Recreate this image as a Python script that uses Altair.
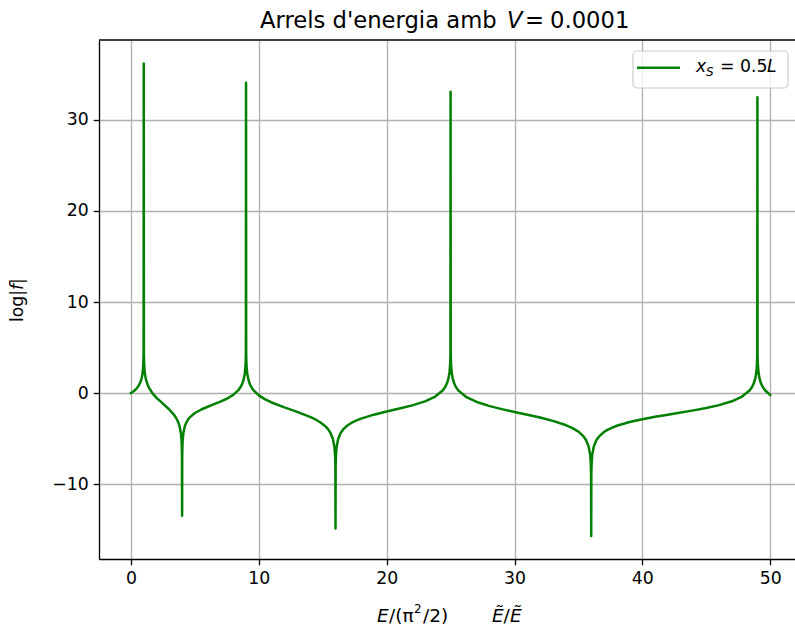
import altair as alt
import pandas as pd

FONT = "DejaVu Sans"
GREEN = "#008000"

# Energy grid (in units of pi^2/2) and log|f|,
# sampled more densely around the resonances (odd n^2) and roots (even n^2)
energy = [
    0.0, 0.1, 0.2, 0.3, 0.4, 0.5, 0.6, 0.7, 0.8, 0.85, 0.9, 0.94, 0.97, 0.99,
    1.0,
    1.01, 1.03, 1.06, 1.1, 1.15, 1.2, 1.3, 1.4, 1.7, 2.0, 2.5, 3.0, 3.4, 3.55,
    3.7, 3.8, 3.9, 3.95, 3.97, 3.99,
    4.0,
    4.01, 4.03, 4.05, 4.1, 4.2, 4.3, 4.45, 4.6, 5.0, 5.5, 6.0, 6.5, 7.0, 7.5,
    8.0, 8.4, 8.55, 8.7, 8.8, 8.9, 8.95, 8.97, 8.99,
    9.0,
    9.01, 9.03, 9.05, 9.1, 9.2, 9.3, 9.45, 9.6, 10.0, 10.5, 11.0, 12.0, 13.0,
    14.0, 14.4, 14.8, 15.2, 15.4, 15.6, 15.8, 15.92, 15.97, 15.99,
    16.0,
    16.01, 16.03, 16.08, 16.2, 16.4, 16.6, 16.9, 17.2, 17.6, 18.0, 19.0, 20.0,
    21.0, 22.0, 23.0, 23.8, 24.4, 24.6, 24.75, 24.85, 24.92, 24.97, 24.99,
    25.0,
    25.01, 25.03, 25.08, 25.15, 25.25, 25.4, 25.6, 26.2, 27.0, 28.0, 29.0, 30.0,
    31.0, 32.0, 33.0, 34.0, 34.5, 35.0, 35.4, 35.6, 35.8, 35.92, 35.97, 35.99,
    36.0,
    36.01, 36.03, 36.08, 36.2, 36.4, 36.6, 37.0, 37.2, 37.6, 38.0, 39.0, 40.0,
    41.0, 42.0, 43.0, 44.0, 45.0, 46.0, 47.0, 47.8, 48.4, 48.6, 48.75, 48.85,
    48.93, 48.97, 48.99,
    49.0,
    49.01, 49.03, 49.07, 49.15, 49.25, 49.4, 49.6, 50.0,
]
log_f = [
    0.0, 0.09, 0.19, 0.30, 0.44, 0.60, 0.80, 1.06, 1.45, 1.72, 2.12, 2.62, 3.30, 4.40,
    36.2,
    4.39, 3.29, 2.59, 2.07, 1.65, 1.35, 0.92, 0.60, -0.06, -0.53, -1.17, -1.81, -2.45, -2.78,
    -3.22, -3.65, -4.36, -5.07, -5.59, -6.68,
    -13.5,
    -6.68, -5.59, -5.08, -4.40, -3.72, -3.33, -2.95, -2.68, -2.20, -1.81, -1.51, -1.23, -0.95, -0.63,
    -0.20, 0.31, 0.60, 1.00, 1.40, 2.09, 2.79, 3.30, 4.39,
    34.1,
    4.39, 3.30, 2.79, 2.09, 1.40, 0.98, 0.57, 0.28, -0.26, -0.70, -1.04, -1.58, -2.07,
    -2.62, -2.88, -3.21, -3.64, -3.94, -4.36, -5.07, -5.99, -6.97, -8.07,
    -14.9,
    -8.07, -6.97, -5.99, -5.09, -4.40, -4.00, -3.60, -3.32, -3.04, -2.81, -2.38, -2.03,
    -1.71, -1.36, -0.92, -0.39, 0.30, 0.71, 1.18, 1.69, 2.32, 3.30, 4.40,
    33.1,
    4.40, 3.30, 2.31, 1.69, 1.17, 0.70, 0.29, -0.42, -0.96, -1.41, -1.77, -2.08,
    -2.38, -2.70, -3.06, -3.52, -3.83, -4.25, -4.77, -5.19, -5.88, -6.80, -7.78, -8.88,
    -15.7,
    -8.88, -7.78, -6.80, -5.89, -5.19, -4.80, -4.29, -4.11, -3.83, -3.60, -3.19, -2.88,
    -2.62, -2.38, -2.15, -1.91, -1.65, -1.33, -0.91, -0.39, 0.30, 0.71, 1.18, 1.69,
    2.44, 3.30, 4.40,
    32.5,
    4.40, 3.30, 2.44, 1.69, 1.17, 0.70, 0.30, -0.22,
]

x_ticks = [0, 10, 20, 30, 40, 50]
y_ticks = [-10, 0, 10, 20, 30]

W, H = 696, 519
df = pd.DataFrame({"E": energy, "logf": log_f})
one = pd.DataFrame({"a": [0]})


def label(text, x, y, size=17.3, style="normal", angle=0, align="left"):
    return alt.Chart(pd.DataFrame({"t": [text]})).mark_text(
        align=align, baseline="alphabetic", font=FONT, fontSize=size,
        fontStyle=style, angle=angle, color="black",
    ).encode(x=alt.value(x), y=alt.value(y), text="t:N")


curve = alt.Chart(df).mark_line(
    color=GREEN, strokeWidth=2.5, strokeJoin="round", strokeCap="square"
).encode(
    x=alt.X("E:Q", scale=alt.Scale(domain=[-2.5, 51.94], nice=False, zero=False),
            axis=alt.Axis(values=x_ticks, title=None, grid=True, labelFlush=False)),
    y=alt.Y("logf:Q", scale=alt.Scale(domain=[-18.24, 38.79], nice=False, zero=False),
            axis=alt.Axis(values=y_ticks, title=None, grid=True, labelFlush=False)),
)

top_spine = alt.Chart(one).mark_rule(color="black", strokeWidth=1.3).encode(
    x=alt.value(0), x2=alt.value(W), y=alt.value(0)
)

# Legend box with a line sample
legend_box = alt.Chart(one).mark_rect(
    fill="white", fillOpacity=0.8, stroke="#cccccc", strokeWidth=1.2, cornerRadius=4
).encode(x=alt.value(534), x2=alt.value(689), y=alt.value(11), y2=alt.value(48))
legend_line = alt.Chart(one).mark_rule(color=GREEN, strokeWidth=2.5).encode(
    x=alt.value(538), x2=alt.value(581), y=alt.value(27.7)
)

texts = [
    # title: Arrels d'energia amb V = 0.0001
    label("Arrels d'energia amb", 161, -12, size=22.7),
    label("V", 408, -12, size=22.7, style="italic"),
    label("=", 426, -12, size=22.7),
    label("0.0001", 451, -12, size=22.7),
    # y title: log|f|
    label("log|", -76, 282, angle=270),
    label("f", -76, 250, style="italic", angle=270),
    label("|", -76, 244, angle=270),
    # x title: E/(pi^2/2)   Ẽ/Ẽ
    label("E", 278, 582, size=18.5, style="italic"),
    label("/(π", 290, 582, size=18.5),
    label("2", 315, 573, size=12),
    label("/2)", 324, 582, size=18.5),
    label("Ẽ", 393, 582, size=18.5, style="italic"),
    label("/", 404.5, 582, size=18.5),
    label("Ẽ", 411, 582, size=18.5, style="italic"),
    # legend entry: x_S = 0.5L
    label("x", 597, 32, style="italic"),
    label("S", 607, 36, size=12, style="italic"),
    label("= 0.5", 621, 32),
    label("L", 668, 32, style="italic"),
]

chart = alt.layer(curve, top_spine, legend_box, legend_line, *texts).properties(
    width=W, height=H,
    autosize=alt.AutoSizeParams(type="none"),
    padding={"left": 99, "top": 40, "right": 0, "bottom": 69},
    background="white",
).configure_view(stroke=None).configure_axis(
    domainColor="black", domainWidth=1.3,
    tickColor="black", tickWidth=1.3, tickSize=5.8,
    labelFont=FONT, labelFontSize=17.3, labelColor="black", labelPadding=5,
    gridColor="#b0b0b0", gridWidth=1.3,
)

chart.save("out.html", embed_options={"renderer": "svg", "actions": False})
